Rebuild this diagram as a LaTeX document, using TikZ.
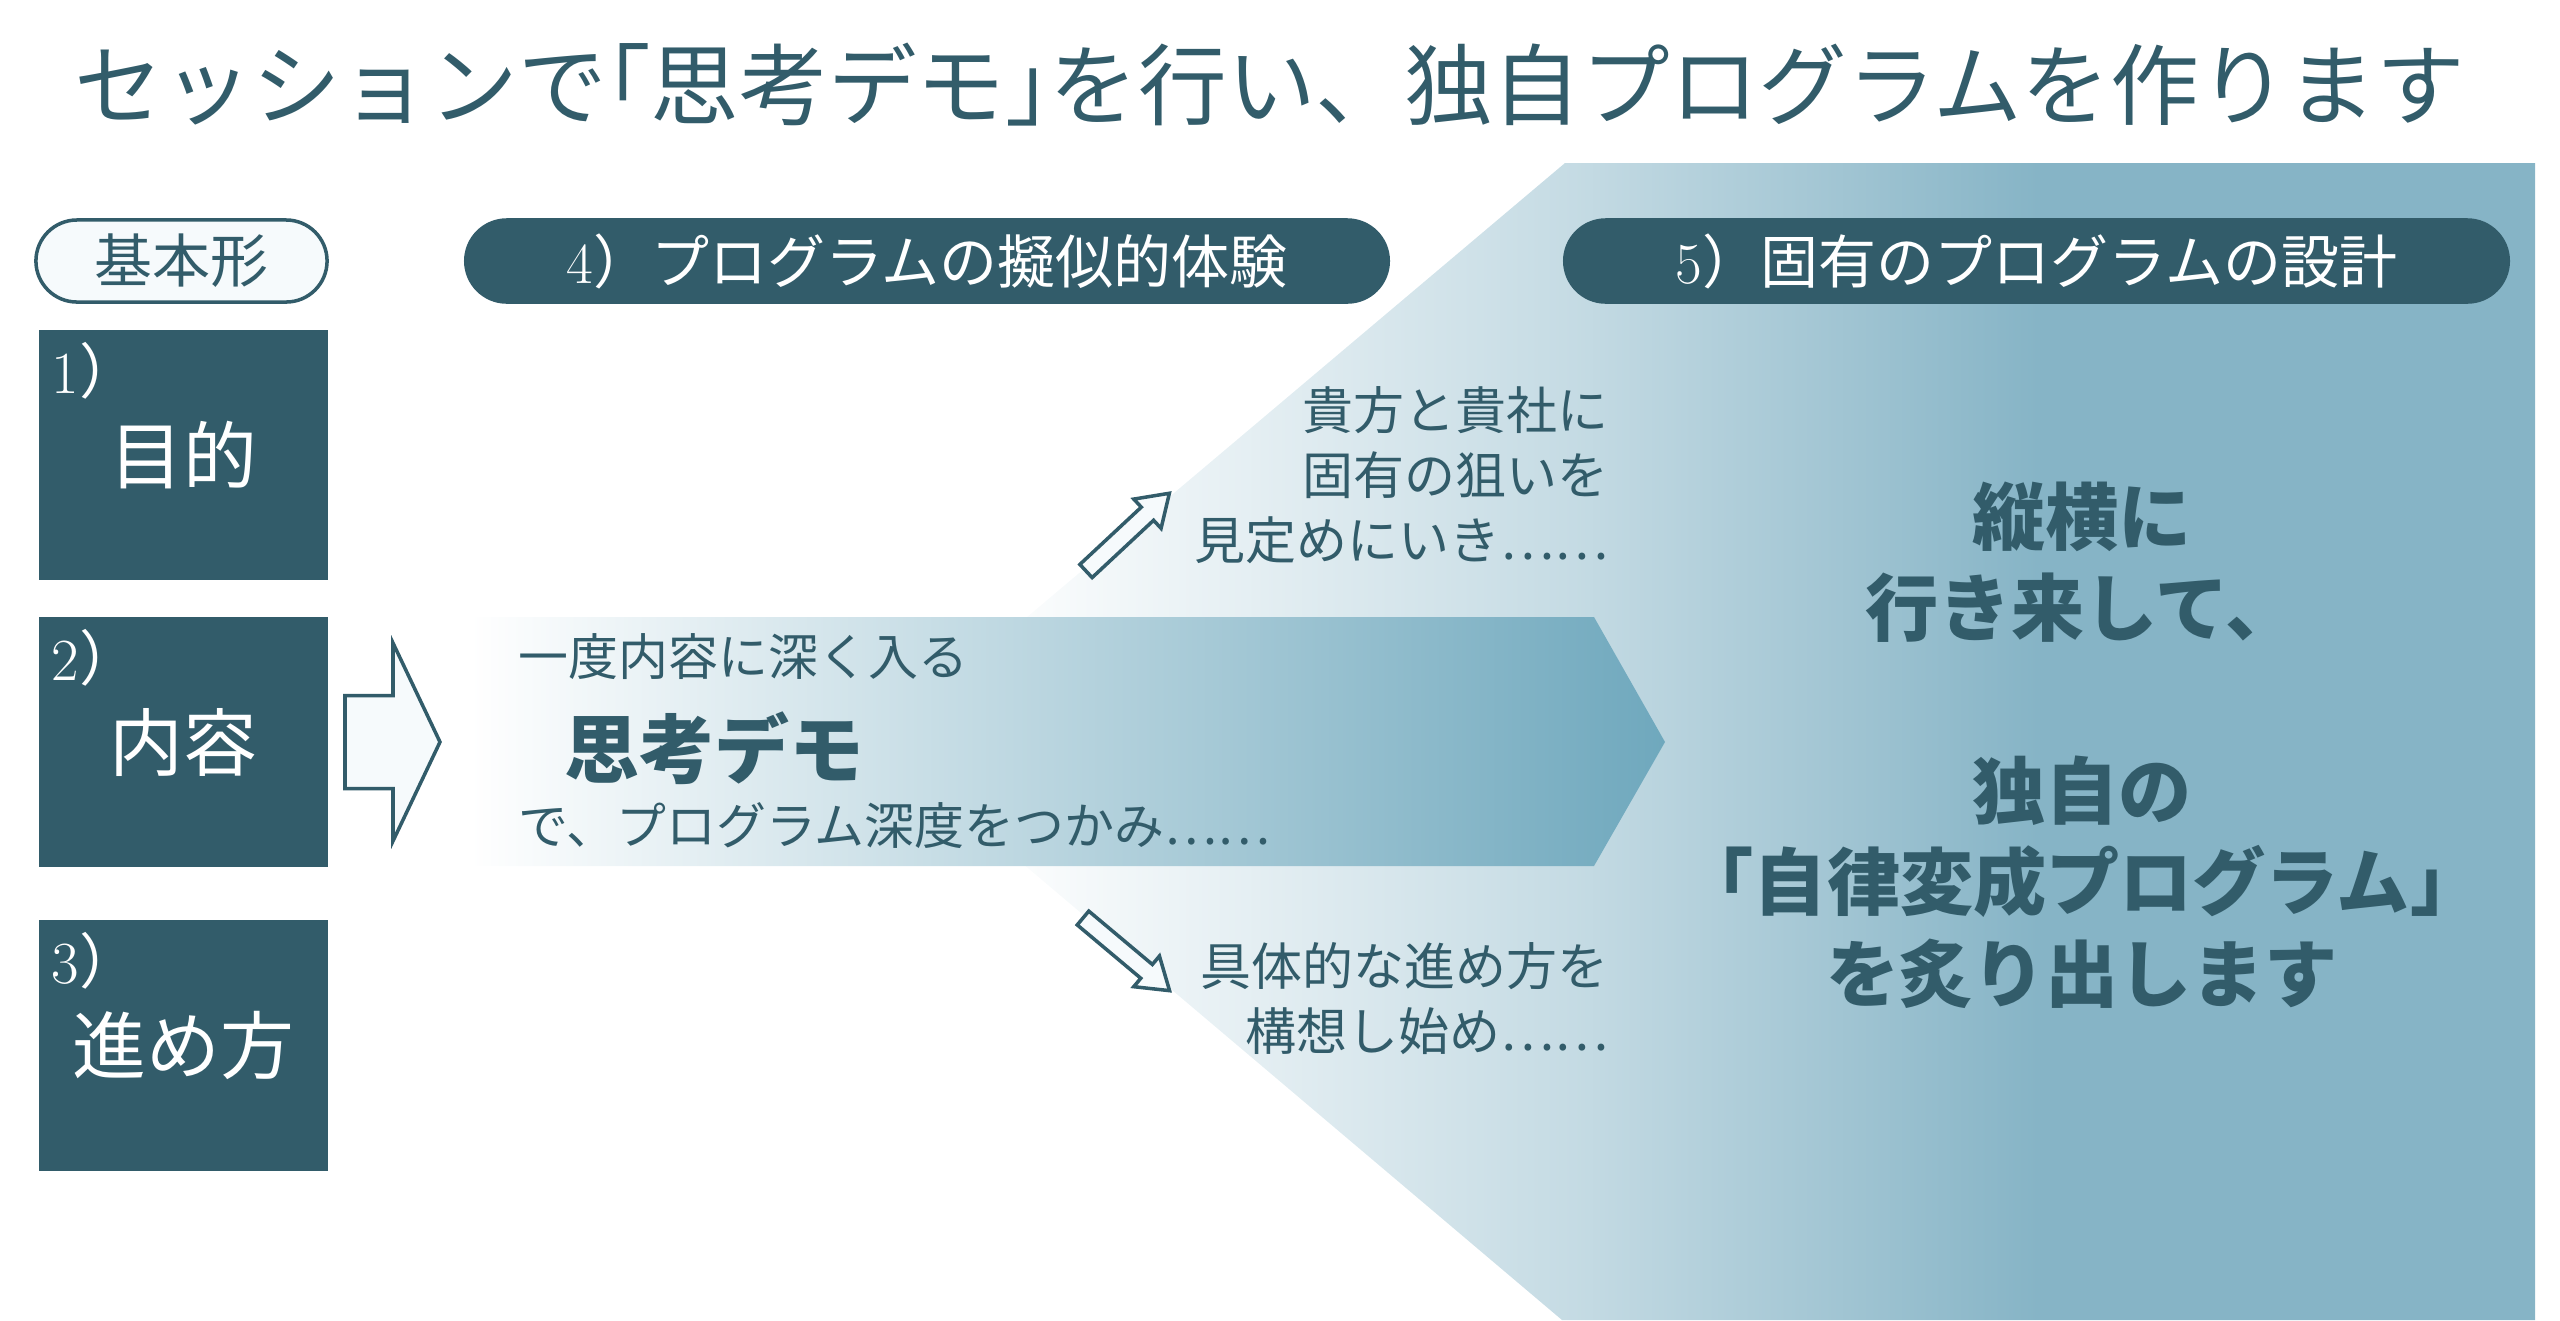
\documentclass[tikz,border=0pt]{standalone}
\usepackage{fontspec}
\newfontfamily\jp{Noto Sans CJK JP}
\newfontfamily\jphw{Noto Sans CJK JP}[RawFeature=+halt]
\usetikzlibrary{positioning}
\definecolor{deepteal}{RGB}{50,92,106}
\definecolor{bandteal}{RGB}{111,168,189}
\definecolor{funnelblue}{RGB}{134,180,198}
\definecolor{pillwhite}{RGB}{246,250,252}
\colorlet{funnelmid}{funnelblue!48!white}
\pgfdeclarehorizontalshading{funnelshade}{100bp}{color(0bp)=(white); color(28bp)=(white); color(46bp)=(funnelmid); color(60bp)=(funnelblue); color(100bp)=(funnelblue)}
\newcommand\fs[2]{\fontsize{#1}{#2}\selectfont}
\newcommand\tendots{⋯⋯}

\begin{document}
\begin{tikzpicture}[x=0.01cm,y=-0.01cm,
  every node/.style={inner sep=0pt,text=deepteal,font=\jp},
  stepbox/.style={fill=deepteal,minimum width=2.89cm,minimum height=2.5cm,text=white,font=\jp\fs{21pt}{25pt}},
  num/.style={anchor=base west,text=white,font=\fs{17pt}{20pt}},
  pill/.style={draw=deepteal,line width=1pt,rounded corners=0.41cm,minimum height=0.82cm,font=\jp\fs{16.5pt}{20pt}},
  side/.style={anchor=east,align=right,font=\jp\fs{14.5pt}{18.5pt}},
  hollow/.style={draw=deepteal,fill=pillwhite,line width=1pt,line join=miter}]
\useasboundingbox (0,0) rectangle (2560,1320);
% background funnel and band
\shade[shading=funnelshade] (1565,163) -- (2535,163) -- (2535,1320) -- (1562,1320) -- (879,742) -- cycle;
\shade[left color=white,right color=bandteal] (470,617) -- (1594,617) -- (1665,742) -- (1594,866) -- (470,866) -- cycle;

\node (title) at (1270,85) [font=\jp\fs{25.2pt}{28pt}] {セッションで{\jphw 「}思考デモ{\jphw 」}を行い、独自プログラムを作ります};

% left column
\node[pill,fill=pillwhite,minimum width=2.91cm] (basic) at (181.5,261) {基本形};
\node[stepbox] (purpose) at (183.5,455) {目的};
\node[stepbox] (content) at (183.5,742) {内容};
\node[stepbox] (method) at (183.5,1045.5) {進め方};
\node[num] at ([xshift=0.13cm,yshift=-0.64cm]purpose.north west) {1{\jp ）}};
\node[num] at ([xshift=0.13cm,yshift=-0.64cm]content.north west) {2{\jp ）}};
\node[num] at ([xshift=0.13cm,yshift=-0.64cm]method.north west) {3{\jp ）}};
\draw[hollow] (345,695.5) -- (393,695.5) -- (393,643) -- (440,742) -- (393,841) -- (393,788.5) -- (345,788.5) -- cycle;

% 4) and 5)
\node[pill,fill=deepteal,text=white,minimum width=9.22cm] (trial) at (927,261) {{\rmfamily 4}）プログラムの擬似的体験};
\node[pill,fill=deepteal,text=white,minimum width=9.43cm] (design) at (2036.5,261) {{\rmfamily 5}）固有のプログラムの設計};

\node[anchor=west,font=\jp\fs{14.2pt}{17pt}] (dive) at (518,657) {一度内容に深く入る};
\node[anchor=west,font=\jp\bfseries\fs{21.3pt}{25pt}] (demo) at (564,748) {思考デモ};
\node[anchor=west,font=\jp\fs{14.2pt}{17pt}] (grasp) at (518,826) {で、プログラム深度をつかみ\tendots};

\begin{scope}[shift={(1086,571)},rotate=43]
\draw[hollow] (0,-9) -- (84,-9) -- (84,-20) -- (114,0) -- (84,20) -- (84,9) -- (0,9) -- cycle;
\end{scope}
\begin{scope}[shift={(1083,918)},rotate=-40]
\draw[hollow] (0,-9) -- (83,-9) -- (83,-20) -- (113,0) -- (83,20) -- (83,9) -- (0,9) -- cycle;
\end{scope}
\node[side] (aim) at (1609,475) {貴方と貴社に\\固有の狙いを\\見定めにいき\tendots};
\node[side] (plan) at (1609,999) {具体的な進め方を\\構想し始め\tendots};

\node[align=center,font=\jp\bfseries\fs{20.8pt}{26pt}] (result) at (2082,745) {縦横に\\行き来して、\\[26pt]独自の\\{\jphw 「}自律変成プログラム{\jphw 」}\\を炙り出します};
\end{tikzpicture}
\end{document}
